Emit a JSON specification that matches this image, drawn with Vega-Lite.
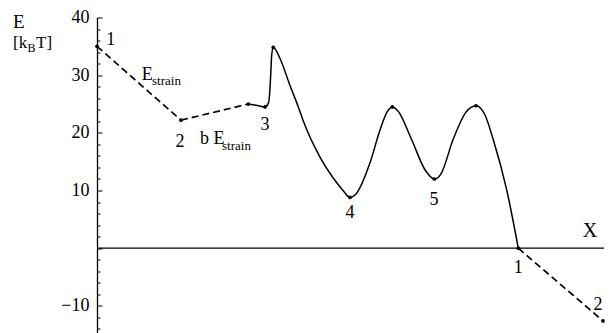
{
  "$schema": "https://vega.github.io/schema/vega-lite/v6.json",
  "width": 507,
  "height": 315.5,
  "autosize": {"type": "none"},
  "padding": {"left": 97, "top": 17.5, "right": 8, "bottom": 0},
  "config": {"view": {"stroke": null}, "font": "Liberation Serif"},
  "datasets": {
    "curve": [
      {"x": 0, "E": 35.0, "seg": "d1"},
      {"x": 0.84, "E": 22.2, "seg": "d1"},
      {"x": 0.84, "E": 22.2, "seg": "d2"},
      {"x": 1.513, "E": 25.0, "seg": "d2"},
      {"x": 4.213, "E": 0, "seg": "d3"},
      {"x": 5.06, "E": -12.6, "seg": "d3"}
    ],
    "solid": [
      {"x": 1.513, "E": 25.0},
      {"x": 1.59, "E": 24.8},
      {"x": 1.68, "E": 24.5},
      {"x": 1.713, "E": 25.1},
      {"x": 1.73, "E": 27.7},
      {"x": 1.74, "E": 31.2},
      {"x": 1.747, "E": 33.5},
      {"x": 1.763, "E": 34.8},
      {"x": 1.83, "E": 32.9},
      {"x": 1.93, "E": 28.2},
      {"x": 2.013, "E": 24.5},
      {"x": 2.06, "E": 22.2},
      {"x": 2.23, "E": 15.8},
      {"x": 2.40, "E": 11.3},
      {"x": 2.47, "E": 9.8},
      {"x": 2.53, "E": 8.8},
      {"x": 2.59, "E": 9.4},
      {"x": 2.73, "E": 14.8},
      {"x": 2.83, "E": 20.5},
      {"x": 2.90, "E": 23.6},
      {"x": 2.953, "E": 24.5},
      {"x": 3.01, "E": 23.8},
      {"x": 3.147, "E": 18.8},
      {"x": 3.28, "E": 13.6},
      {"x": 3.373, "E": 12.0},
      {"x": 3.44, "E": 12.9},
      {"x": 3.56, "E": 18.8},
      {"x": 3.69, "E": 23.6},
      {"x": 3.79, "E": 24.7},
      {"x": 3.88, "E": 23.1},
      {"x": 3.963, "E": 18.8},
      {"x": 4.097, "E": 10.1},
      {"x": 4.213, "E": 0}
    ],
    "dots": [
      {"x": 0, "E": 35.0},
      {"x": 0.84, "E": 22.2},
      {"x": 1.513, "E": 25.0},
      {"x": 1.68, "E": 24.5},
      {"x": 1.763, "E": 34.8},
      {"x": 2.53, "E": 8.8},
      {"x": 2.953, "E": 24.5},
      {"x": 3.373, "E": 12.0},
      {"x": 3.79, "E": 24.7},
      {"x": 4.213, "E": 0},
      {"x": 5.06, "E": -12.6}
    ],
    "labels": [
      {"x": 0.137, "E": 35.2, "text": "1"},
      {"x": 0.83, "E": 17.5, "text": "2"},
      {"x": 1.68, "E": 20.5, "text": "3"},
      {"x": 2.53, "E": 5.2, "text": "4"},
      {"x": 3.37, "E": 7.5, "text": "5"},
      {"x": 4.213, "E": -4.3, "text": "1"},
      {"x": 5.01, "E": -10.7, "text": "2"}
    ],
    "bigE": [
      {"x": 0.447, "E": 29.2, "text": "E"},
      {"x": 1.03, "E": 18.0, "text": "b E"}
    ],
    "subs": [
      {"x": 0.55, "E": 28.3, "text": "strain"},
      {"x": 1.25, "E": 17.1, "text": "strain"}
    ],
    "xlab": [{"x": 4.93, "E": 2.0, "text": "X"}],
    "ytitle": [{"x": -0.84, "E": 38.2, "text": "E"}],
    "unit": [
      {"x": -0.84, "E": 34.7, "text": "[k"},
      {"x": -0.61, "E": 34.7, "text": "T]"}
    ],
    "unitsub": [{"x": -0.695, "E": 34.05, "text": "B"}],
    "zero": [{"E": 0}]
  },
  "encoding": {
    "x": {"field": "x", "type": "quantitative", "scale": {"domain": [0, 5.07], "nice": false, "zero": false}, "axis": null},
    "y": {"field": "E", "type": "quantitative", "scale": {"domain": [-14.7, 40], "nice": false, "zero": false},
      "axis": {
        "title": null,
        "orient": "left",
        "values": [-14, -12, -10, -8, -6, -4, -2, 0, 2, 4, 6, 8, 10, 12, 14, 16, 18, 20, 22, 24, 26, 28, 30, 32, 34, 36, 38, 40],
        "domainColor": "black",
        "domainWidth": 1.3,
        "tickColor": "black",
        "tickWidth": 1,
        "tickSize": {"condition": {"test": "datum.value % 10 === 0", "value": -5}, "value": -3},
        "labelExpr": "datum.value % 10 === 0 && datum.value !== 0 ? replace(datum.label, '-', '\u2212') : ''",
        "labelFont": "Liberation Serif",
        "labelFontSize": 18,
        "labelColor": "black",
        "labelPadding": 13,
        "grid": false
      }
    }
  },
  "layer": [
    {
      "data": {"name": "zero"},
      "mark": {"type": "rule", "color": "black", "strokeWidth": 1.3},
      "encoding": {"x": null}
    },
    {
      "data": {"name": "curve"},
      "mark": {"type": "line", "color": "black", "strokeWidth": 1.7, "strokeDash": [7, 4]},
      "encoding": {"detail": {"field": "seg"}}
    },
    {
      "data": {"name": "solid"},
      "mark": {"type": "line", "color": "black", "strokeWidth": 1.5, "interpolate": "monotone"}
    },
    {
      "data": {"name": "dots"},
      "mark": {"type": "point", "filled": true, "color": "black", "size": 14, "opacity": 1}
    },
    {
      "data": {"name": "labels"},
      "mark": {"type": "text", "font": "Liberation Serif", "fontSize": 18, "align": "center", "baseline": "alphabetic", "color": "black"},
      "encoding": {"text": {"field": "text"}}
    },
    {
      "data": {"name": "bigE"},
      "mark": {"type": "text", "font": "Liberation Serif", "fontSize": 18, "align": "left", "baseline": "alphabetic", "color": "black"},
      "encoding": {"text": {"field": "text"}}
    },
    {
      "data": {"name": "subs"},
      "mark": {"type": "text", "font": "Liberation Serif", "fontSize": 13, "align": "left", "baseline": "alphabetic", "color": "black"},
      "encoding": {"text": {"field": "text"}}
    },
    {
      "data": {"name": "xlab"},
      "mark": {"type": "text", "font": "Liberation Serif", "fontSize": 20, "align": "center", "baseline": "alphabetic", "color": "black"},
      "encoding": {"text": {"field": "text"}}
    },
    {
      "data": {"name": "ytitle"},
      "mark": {"type": "text", "font": "Liberation Serif", "fontSize": 19, "align": "left", "baseline": "alphabetic", "color": "black"},
      "encoding": {"text": {"field": "text"}}
    },
    {
      "data": {"name": "unit"},
      "mark": {"type": "text", "font": "Liberation Serif", "fontSize": 17, "align": "left", "baseline": "alphabetic", "color": "black"},
      "encoding": {"text": {"field": "text"}}
    },
    {
      "data": {"name": "unitsub"},
      "mark": {"type": "text", "font": "Liberation Serif", "fontSize": 12, "align": "left", "baseline": "alphabetic", "color": "black"},
      "encoding": {"text": {"field": "text"}}
    }
  ]
}
